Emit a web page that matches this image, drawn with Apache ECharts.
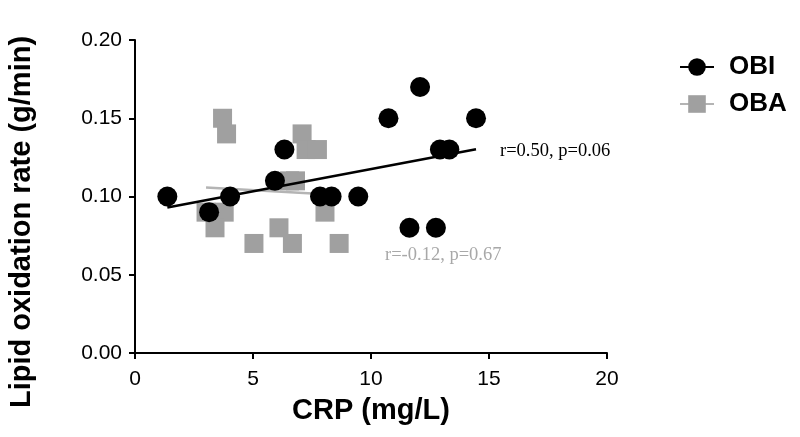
<!DOCTYPE html>
<html><head><meta charset="utf-8">
<script src="https://cdn.jsdelivr.net/npm/echarts@6/dist/echarts.min.js"></script>
<style>html,body{margin:0;padding:0;background:#fff}#c{width:800px;height:437px}</style>
</head><body><div id="c"></div>
<script>
const obiX = [1.37, 3.14, 4.03, 5.93, 6.33, 7.84, 8.33, 9.46, 10.74, 12.08, 11.63, 12.75, 12.92, 13.32, 14.45];
const obiY = [0.10, 0.09, 0.10, 0.11, 0.13, 0.10, 0.10, 0.10, 0.15, 0.17, 0.08, 0.08, 0.13, 0.13, 0.15];
const obaX = [3.71, 3.88, 3.01, 3.78, 3.39, 5.04, 6.10, 6.67, 7.08, 7.25, 7.73, 6.55, 6.80, 8.05, 8.65];
const obaY = [0.15, 0.14, 0.09, 0.09, 0.08, 0.07, 0.08, 0.07, 0.14, 0.13, 0.13, 0.11, 0.11, 0.09, 0.07];
const obiFitX = [1.37, 14.45];
const obiFitY = [0.0930, 0.1302];
const obaFitX = [3.01, 8.65];
const obaFitY = [0.1057, 0.1009];
const xTicks = [0, 5, 10, 15, 20];
const yTicks = [0, 0.05, 0.10, 0.15, 0.20];
const obiLabel = 'r=0.50, p=0.06';
const obaLabel = 'r=-0.12, p=0.67';
const xTitle = 'CRP (mg/L)';
const yTitle = 'Lipid oxidation rate (g/min)';

const zip = (a, b) => a.map((v, i) => [v, b[i]]);
const black = '#000000', gray = '#a0a0a0';
const sans = 'Liberation Sans, Arial, sans-serif';
const serif = 'Liberation Serif, Times New Roman, serif';
const chart = echarts.init(document.getElementById('c'), null, {renderer: 'canvas'});
chart.setOption({
  animation: false,
  backgroundColor: '#fff',
  grid: {left: 135, top: 40, width: 472, height: 313, containLabel: false},
  xAxis: {
    type: 'value', min: xTicks[0], max: xTicks[xTicks.length - 1], interval: 5,
    name: xTitle, nameLocation: 'middle', nameGap: 43,
    nameTextStyle: {fontFamily: sans, fontWeight: 'bold', fontSize: 29, color: '#000'},
    axisLine: {lineStyle: {color: '#000', width: 2}},
    axisTick: {show: true, length: 6, lineStyle: {color: '#000', width: 2}},
    axisLabel: {fontFamily: sans, fontSize: 21, color: '#000', margin: 16},
    splitLine: {show: false}
  },
  yAxis: {
    type: 'value', min: yTicks[0], max: yTicks[yTicks.length - 1], interval: 0.05,
    axisLine: {show: true, lineStyle: {color: '#000', width: 2}},
    axisTick: {show: true, length: 6, lineStyle: {color: '#000', width: 2}},
    axisLabel: {fontFamily: sans, fontSize: 21, color: '#000', margin: 13,
      formatter: v => v.toFixed(2)},
    splitLine: {show: false}
  },
  legend: {
    orient: 'vertical', left: 674, top: 49, itemWidth: 34, itemHeight: 22, itemGap: 11,
    data: ['OBI', 'OBA'],
    textStyle: {fontFamily: sans, fontWeight: 'bold', fontSize: 26, color: '#000', padding: [0, 0, 0, 10]}
  },
  graphic: [
    {type: 'text', left: 500, top: 142, style: {text: obiLabel, fontFamily: serif, fontSize: 18.5, fill: '#000'}},
    {type: 'text', left: 385, top: 246, style: {text: obaLabel, fontFamily: serif, fontSize: 18.5, fill: '#a8a8a8'}},
    {type: 'text', x: 22, y: 222, rotation: Math.PI / 2,
     style: {text: yTitle, fontFamily: sans, fontWeight: 'bold', fontSize: 29, fill: '#000', align: 'center', verticalAlign: 'middle'}}
  ],
  series: [
    {name: 'OBI', type: 'line', data: zip(obiFitX, obiFitY), symbol: 'circle', symbolSize: 14, showSymbol: false,
     lineStyle: {color: black, width: 2.5}, itemStyle: {color: black}, z: 3, silent: true},
    {name: 'OBA', type: 'line', data: zip(obaFitX, obaFitY), symbol: 'rect', symbolSize: 14, showSymbol: false,
     lineStyle: {color: '#b4b4b4', width: 2.5}, itemStyle: {color: gray}, z: 1, silent: true},
    {name: 'OBA', type: 'scatter', data: zip(obaX, obaY), symbol: 'rect', symbolSize: 19,
     itemStyle: {color: gray, opacity: 1}, z: 2},
    {name: 'OBI', type: 'scatter', data: zip(obiX, obiY), symbol: 'circle', symbolSize: 20,
     itemStyle: {color: black, opacity: 1}, z: 4}
  ]
});
</script></body></html>
